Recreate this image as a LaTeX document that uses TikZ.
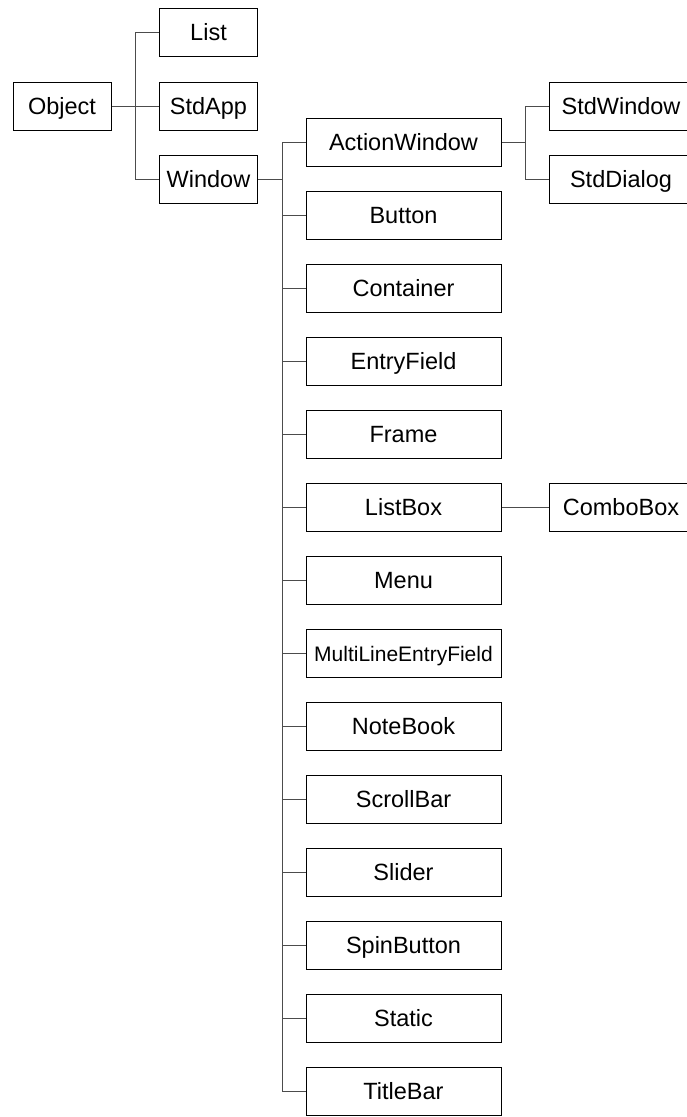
\documentclass[tikz,border=0pt]{standalone}
\usepackage{fontspec}
\newfontfamily\labelfont{Liberation Sans}
\usepackage{tikz}
\usetikzlibrary{calc}

\begin{document}
\begin{tikzpicture}[x=1pt, y=-1pt,
  cls/.style={draw=black, line width=1pt, minimum width=#1, minimum height=48pt,
    inner sep=0pt, text height=16.5pt, text depth=0pt,
    font=\labelfont\fontsize{23.5}{27}\selectfont},
  cls/.default=98pt,
  link/.style={draw=black!70, line width=1pt}
]
  \useasboundingbox (0,0) rectangle (686,1117);

  % root and its children
  \node[cls] (obj)    at (62, 106)    {Object};
  \node[cls] (list)   at (208.5, 32)  {List};
  \node[cls] (stdapp) at (208.5, 106) {StdApp};
  \node[cls] (win)    at (208.5, 179) {Window};

  \coordinate (j1) at (135, 106);
  \draw[link] (obj.east) -- (j1);
  \draw[link] (list.west) -| (j1);
  \draw[link] (stdapp.west) -- (j1);
  \draw[link] (win.west) -| (j1);

  % window subclasses
  \coordinate (j2) at (282, 179);
  \draw[link] (win.east) -- (j2);
  \foreach \nm/\txt [count=\i from 0] in {aw/ActionWindow, btn/Button,
      cont/Container, ef/EntryField, frm/Frame, lb/ListBox, menu/Menu,
      mlef/{\fontsize{21}{24}\selectfont MultiLineEntryField}, nb/NoteBook,
      sb/ScrollBar, sld/Slider, spin/SpinButton, stat/Static, tb/TitleBar}
  {
    \node[cls=195pt] (\nm) at (403.5, 142+73*\i) {\txt};
    \draw[link] (\nm.west) -| (j2);
  }

  % action window subclasses
  \node[cls=144pt] (stdwin) at (621, 106) {StdWindow};
  \node[cls=144pt] (stddlg) at (621, 179) {StdDialog};
  \coordinate (j3) at (525, 142);
  \draw[link] (aw.east) -- (j3);
  \draw[link] (stdwin.west) -| (j3);
  \draw[link] (stddlg.west) -| (j3);

  % list box subclass
  \node[cls=144pt] (cb) at (621, 507) {ComboBox};
  \draw[link] (lb.east) -- (cb.west);
\end{tikzpicture}
\end{document}
